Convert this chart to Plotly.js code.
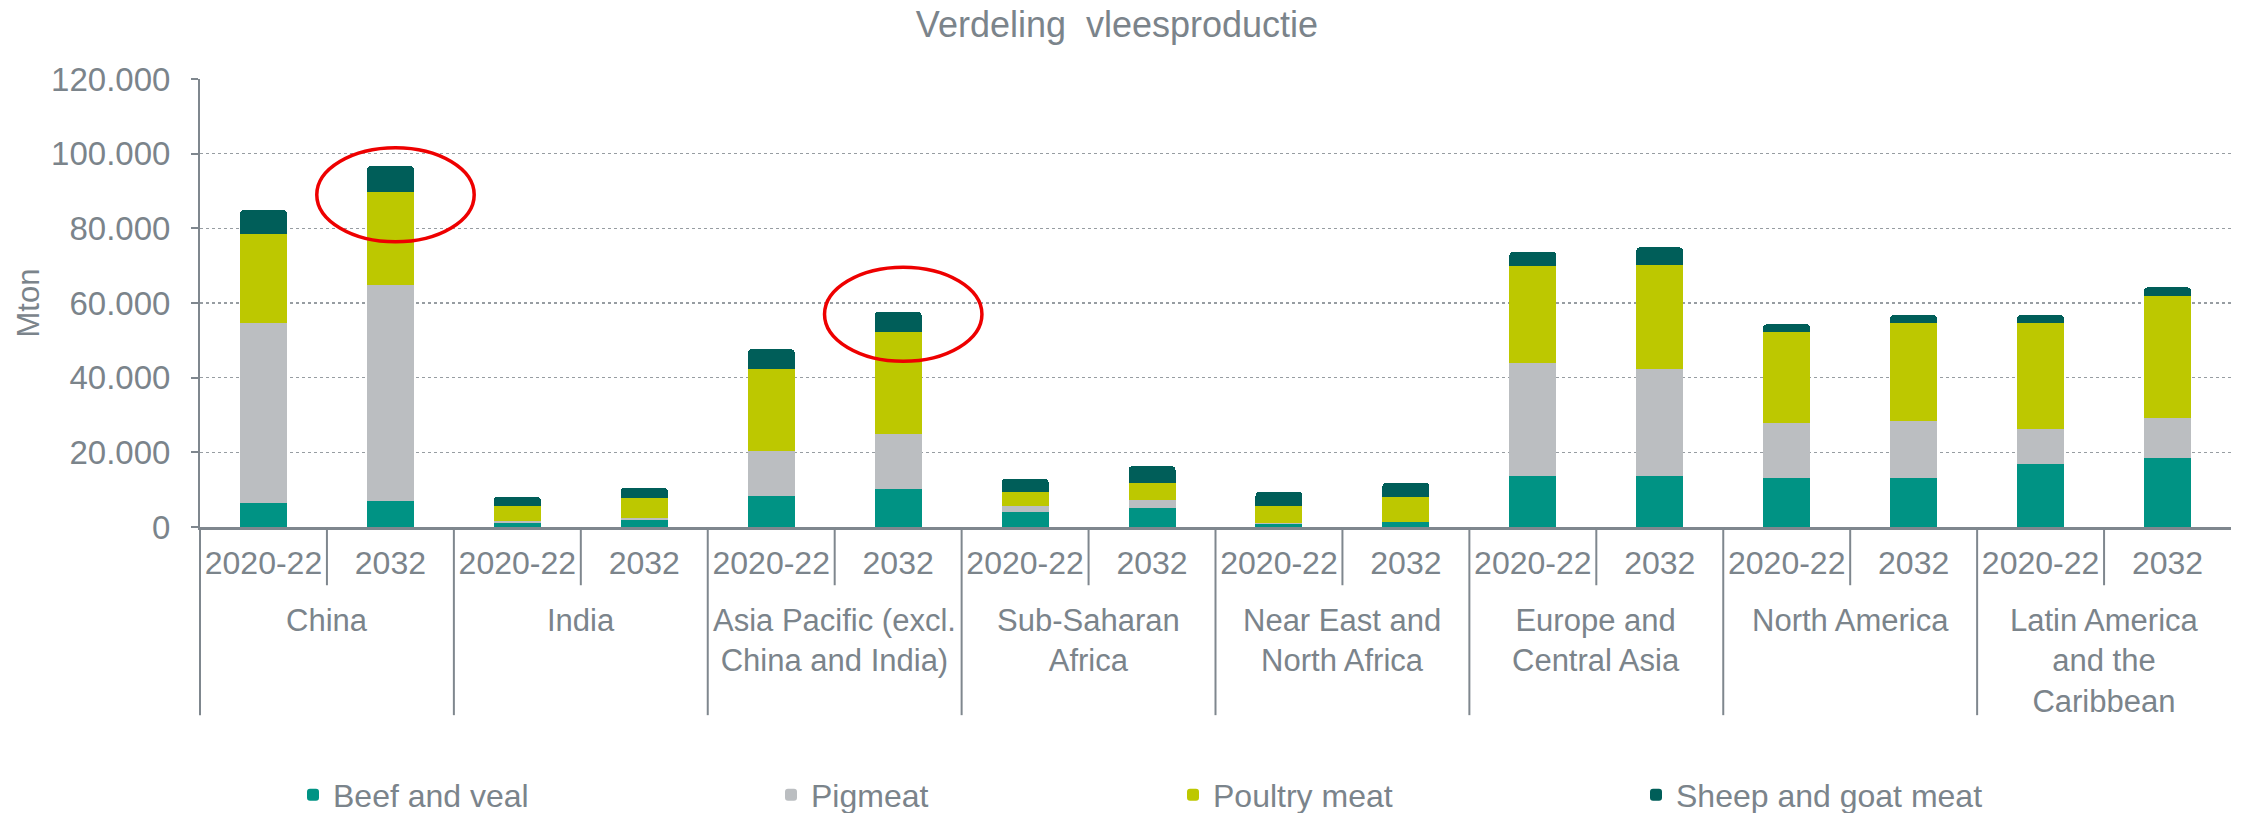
<!DOCTYPE html>
<html>
<head>
<meta charset="utf-8">
<script src="https://cdn.plot.ly/plotly-3.0.1.min.js"></script>
<style>
html,body{margin:0;padding:0;background:#ffffff;}
#chart{width:2247px;height:813px;}
</style>
</head>
<body>
<div id="chart"></div>
<script>
// ---------- DATA ----------
const regions = ["China", "India", "Asia Pacific (excl. China and India)", "Sub-Saharan Africa",
  "Near East and North Africa", "Europe and Central Asia", "North America", "Latin America and the Caribbean"];
const regionLabels = ["China", "India", "Asia Pacific (excl.<br>China and India)", "Sub-Saharan<br>Africa",
  "Near East and<br>North Africa", "Europe and<br>Central Asia", "North America", "Latin America<br>and the<br>Caribbean"];
const periods = ["2020-22", "2032"];
const seriesNames = ["Beef and veal", "Pigmeat", "Poultry meat", "Sheep and goat meat"];

// values per bar, order: region x period (2020-22, 2032)
const beefVeal = [6400, 6900, 1200, 1900, 8300, 10300, 4000, 5000, 900, 1300, 13600, 13600, 13100, 13100, 17000, 18500];
const pigmeat  = [48200, 57900, 400, 500, 12100, 14600, 1700, 2200, 50, 50, 30200, 28700, 14700, 15200, 9300, 10700];
const poultry  = [23900, 24900, 4100, 5500, 21900, 27300, 3600, 4600, 4800, 6600, 26100, 27900, 24400, 26300, 28300, 32600];
const sheepGoat= [6400, 7000, 2400, 2600, 5300, 5500, 3600, 4500, 3700, 3900, 3800, 4700, 2100, 2200, 2200, 2400];

// highlighted bars (red ellipses)
const highlights = [
  {region: "China", period: "2032", yCenter: 89000},
  {region: "Asia Pacific (excl. China and India)", period: "2032", yCenter: 57000}
];

// ---------- STYLE ----------
const colors = ["#009384", "#bbbec1", "#bdc800", "#005e59"];
const textGrey = "#7b848b";
const lineGrey = "#7f878e";
const FONT = "Liberation Sans, Arial, sans-serif";

// ---------- BUILD ----------
const keys = [], tickText = [];
regions.forEach(r => periods.forEach(p => { keys.push(r + "|" + p); tickText.push(p); }));
const N = keys.length;
const seriesVals = [beefVeal, pigmeat, poultry, sheepGoat];
const legendIds = ["legend", "legend2", "legend3", "legend4"];

const traces = seriesNames.map((name, i) => ({
  type: "bar", name: name, x: keys, y: seriesVals[i],
  marker: {color: colors[i], line: {width: 0}},
  legend: legendIds[i], hoverinfo: "x+y+name"
}));

const shapes = [];
// dividers: long between regions (incl. left edge), short between periods
for (let k = 0; k < N; k++) {
  const isGroup = (k % periods.length) === 0;
  shapes.push({type: "line", xref: "paper", yref: "paper", x0: k / N, x1: k / N,
    y0: 0, y1: isGroup ? -0.42 : -0.13, line: {color: lineGrey, width: 2}});
}
// red ellipses
highlights.forEach(h => {
  const idx = keys.indexOf(h.region + "|" + h.period);
  shapes.push({type: "circle", xref: "x", yref: "y", x0: idx - 0.58, x1: idx + 0.66,
    y0: h.yCenter - 12600, y1: h.yCenter + 12600, line: {color: "#ee0000", width: 3.5}});
});

const annotations = regionLabels.map((lab, g) => ({
  xref: "paper", yref: "paper", x: (g * periods.length + periods.length / 2) / N, y: -0.165,
  xanchor: "center", yanchor: "top", showarrow: false, align: "center",
  text: lab, font: {family: FONT, size: 31, color: textGrey}
}));

const legendText = [338, 816, 1218, 1681];
const baseLegend = (px) => ({
  orientation: "h", xref: "container", yref: "container",
  x: (px - 45) / 2247, y: 18 / 813, xanchor: "left", yanchor: "middle",
  font: {family: FONT, size: 32, color: textGrey}, bgcolor: "rgba(0,0,0,0)",
  itemwidth: 30, borderwidth: 0
});

const layout = {
  width: 2247, height: 813,
  paper_bgcolor: "#ffffff", plot_bgcolor: "#ffffff",
  margin: {l: 200, r: 16, t: 79, b: 286, pad: 0},
  separators: ",.",
  font: {family: FONT, color: textGrey, size: 32},
  title: {text: "Verdeling\u00a0 vleesproductie", xref: "container", yref: "container",
    x: 1117 / 2247, y: 1 - 24 / 813, xanchor: "center", yanchor: "middle",
    font: {family: FONT, size: 36, color: textGrey}},
  barmode: "stack", bargap: 0.63, barcornerradius: 4,
  xaxis: {type: "category", categoryorder: "array", categoryarray: keys,
    tickmode: "array", tickvals: keys, ticktext: tickText, ticks: "",
    tickfont: {family: FONT, size: 32, color: textGrey}, ticklabelstandoff: 6,
    showline: true, linecolor: lineGrey, linewidth: 3, showgrid: false, zeroline: false,
    range: [-0.5, N - 0.5], fixedrange: true},
  yaxis: {range: [0, 120000], dtick: 20000, tick0: 0, tickformat: ",d",
    tickfont: {family: FONT, size: 33, color: textGrey},
    ticks: "outside", ticklen: 7, tickwidth: 2, tickcolor: lineGrey, ticklabelstandoff: 14,
    showline: true, linecolor: lineGrey, linewidth: 2,
    showgrid: true, gridcolor: "#979da2", gridwidth: 1.5, griddash: "dot", zeroline: false,
    title: {text: "Mton", standoff: 2, font: {family: FONT, size: 31, color: textGrey}},
    fixedrange: true},
  legend: baseLegend(legendText[0]),
  legend2: baseLegend(legendText[1]),
  legend3: baseLegend(legendText[2]),
  legend4: baseLegend(legendText[3]),
  shapes: shapes, annotations: annotations, showlegend: true
};

Plotly.newPlot("chart", traces, layout, {displayModeBar: false, staticPlot: true});
</script>
</body>
</html>
